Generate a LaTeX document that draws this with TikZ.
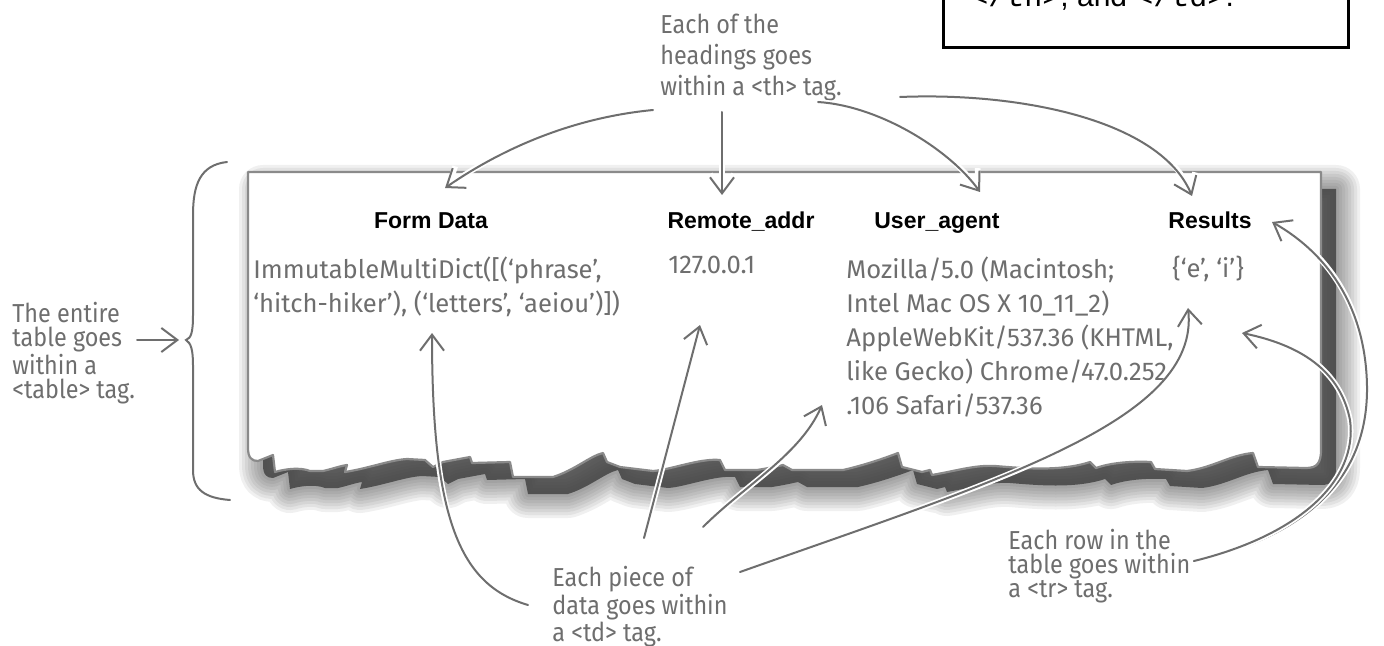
\documentclass[tikz,border=0pt]{standalone}
\usepackage{fontspec}
\setmainfont{Fira Sans}
\newfontfamily\notefont[FakeStretch=0.9]{Fira Sans}
\newfontfamily\headfont{Liberation Sans}
\newfontfamily\codefont{Liberation Mono}
\usetikzlibrary{arrows.meta}

\definecolor{inkgray}{HTML}{6E6E6E}
\definecolor{edgegray}{HTML}{8A8A8A}
\definecolor{shadowgray}{HTML}{3C3C3C}

% outline of the torn sheet, in pixels
\newcommand\sheetpath{(248,172) -- (248,448)
  .. controls (248,458) and (252,461) .. (258,461) -- (273,455) -- (275,472)
  .. controls (285,469) and (300,467) .. (310,471) -- (323,471)
  .. controls (332,469) and (340,466) .. (347,465) -- (345,472)
  .. controls (370,468) and (390,460) .. (407,459) -- (425,460) -- (433,467) -- (443,462)
  -- (470,457) -- (472,463) -- (510,462) -- (513,477) -- (553,477)
  .. controls (575,470) and (590,456) .. (603,453) -- (607,462) -- (620,467)
  -- (653,471) .. controls (670,470) and (700,458) .. (720,460) -- (725,470) -- (757,470)
  .. controls (770,468) and (778,466) .. (783,465) -- (792,470) -- (843,470)
  .. controls (865,465) and (885,458) .. (898,453) -- (902,467) -- (922,472) -- (930,470) -- (932,475)
  .. controls (960,470) and (975,465) .. (995,466) .. controls (1020,468) and (1060,472) .. (1090,462)
  -- (1096,468) .. controls (1110,463) and (1130,461) .. (1151,462) -- (1155,469) -- (1187,471)
  .. controls (1212,468) and (1230,455) .. (1253,453) -- (1258,467) -- (1306,468)
  .. controls (1317,468) and (1321,463) .. (1321,450) -- (1321,172) -- cycle}

\tikzset{
  note/.style={font=\notefont\fontsize{13}{#1}\selectfont, text=inkgray, align=left,
    anchor=north west, inner sep=0pt},
  note/.default=12,
  datum/.style={font=\fontsize{12.8}{17}\selectfont, text=inkgray, align=left,
    anchor=north west, inner sep=0pt},
  heading/.style={font=\headfont\bfseries\fontsize{11.5}{13}\selectfont, anchor=base, inner sep=0pt},
  pointer/.style={draw=inkgray, line width=1pt, line cap=round,
    -{Straight Barb[length=8pt,width=12pt]},
    preaction={draw=white, line width=2.8pt}},
}

\begin{document}
\begin{tikzpicture}[x=0.5pt, y=-0.5pt]
\useasboundingbox (0,0) rectangle (1384,646);

% box cut by the top edge
\begin{scope}
  \clip (0,0) rectangle (1384,646);
  \draw[line width=1.5pt] (943,-20) rectangle (1348,48);
  \node (endtags) [anchor=base west, inner sep=0pt, font=\headfont\fontsize{15}{17}\selectfont]
    at (970,7) {{\codefont </th>}, and {\codefont </td>}.};
\end{scope}

% soft shadow and sheet
\begin{scope}[shift={(15,17)}]
  \fill[shadowgray, opacity=0.8] \sheetpath;
  \foreach \w in {3,6,...,24}
    \draw[shadowgray, line width=\w pt, opacity=0.08, line join=round] \sheetpath;
\end{scope}
\filldraw[fill=white, draw=edgegray, line width=1.1pt, line join=round] \sheetpath;

% headings
\node (formhead) [heading] at (431,229) {Form Data};
\node (addrhead) [heading] at (741,229) {Remote\_addr};
\node (agenthead) [heading] at (937,229) {User\_agent};
\node (resulthead) [heading] at (1210,229) {Results};

% one row of data
\node (formdata) [datum] at (253,256) {ImmutableMultiDict([(‘phrase’,\\‘hitch-hiker’), (‘letters’, ‘aeiou’)])};
\node (addrdata) [datum] at (668,256) {127.0.0.1};
\node (agentdata) [datum] at (846,256) {Mozilla/5.0 (Macintosh;\\Intel Mac OS X 10\_11\_2)\\AppleWebKit/537.36 (KHTML,\\like Gecko) Chrome/47.0.252\\.106 Safari/537.36};
\node (resultdata) [datum] at (1172,256) {\{‘e’, ‘i’\}};

% notes
\node (thnote) [note=15.5] at (660,14) {Each of the\\headings goes\\within a <th> tag.};
\node (tablenote) [note] at (12,302) {The entire\\table goes\\within a\\<table> tag.};
\node (tdnote) [note] at (552,566) {Each piece of\\data goes within\\a <td> tag.};
\node (trnote) [note] at (1008,529) {Each row in the\\table goes within\\a <tr> tag.};

% brace round the table
\draw[inkgray, line width=1pt, line cap=round] (227,162) .. controls (200,165) and (193,185) .. (193,215)
  -- (193,315) .. controls (193,333) and (191,338) .. (186,340)
  .. controls (191,343) and (193,350) .. (193,365) -- (193,470)
  .. controls (193,490) and (205,498) .. (230,500);

% end points of the pointers
\coordinate (th-a) at (653,110);
\coordinate (th-b) at (722,112);
\coordinate (th-c) at (818,102);
\coordinate (th-d) at (900,97);
\coordinate (tbl-a) at (137,340);
\coordinate (brace) at (179,340);
\coordinate (td-a) at (528,605);
\coordinate (td-b) at (644,538);
\coordinate (td-c) at (703,527);
\coordinate (td-d) at (740,572);
\coordinate (tr-a) at (1194,561);
\coordinate (form-tip) at (445,188);
\coordinate (addr-tip) at (722,195);
\coordinate (agent-tip) at (980,192);
\coordinate (result-tip) at (1192,196);
\coordinate (formdata-tip) at (432,333);
\coordinate (addrdata-tip) at (700,325);
\coordinate (agentdata-tip) at (822,405);
\coordinate (resultdata-tip) at (1188,308);
\coordinate (resulthead-tip) at (1272,222);
\coordinate (row-tip) at (1242,333);

% pointers
\draw[pointer] (th-a) .. controls (570,118) and (500,150) .. (form-tip);
\draw[pointer] (th-b) -- (addr-tip);
\draw[pointer] (th-c) .. controls (880,106) and (950,150) .. (agent-tip);
\draw[pointer] (th-d) .. controls (1020,92) and (1160,120) .. (result-tip);
\draw[pointer] (tbl-a) -- (brace);
\draw[pointer] (td-a) .. controls (460,585) and (432,520) .. (formdata-tip);
\draw[pointer] (td-b) -- (addrdata-tip);
\draw[pointer] (td-c) .. controls (745,485) and (800,455) .. (agentdata-tip);
\draw[pointer] (td-d) .. controls (1000,480) and (1200,420) .. (resultdata-tip);
\draw[pointer] (tr-a) .. controls (1290,540) and (1368,490) .. (1367,387)
  .. controls (1366,310) and (1330,255) .. (resulthead-tip);
\draw[pointer] (tr-a) .. controls (1300,535) and (1358,480) .. (1350,420)
  .. controls (1340,370) and (1300,345) .. (row-tip);
\end{tikzpicture}
\end{document}
